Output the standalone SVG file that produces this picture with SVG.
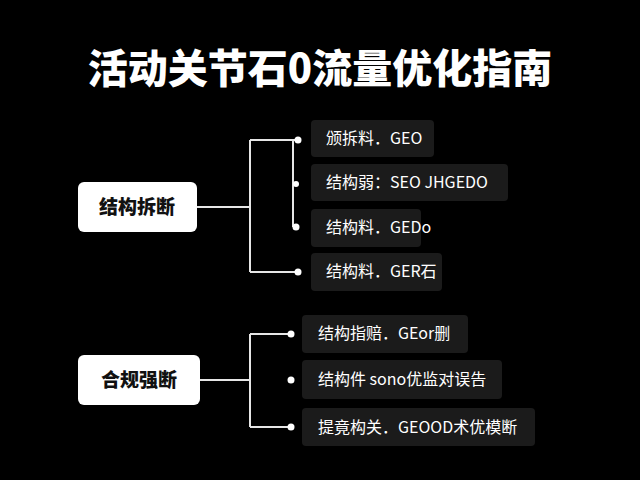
<svg xmlns="http://www.w3.org/2000/svg" width="640" height="480" viewBox="0 0 640 480">
<style>
text{font-family:"Noto Sans CJK SC","Noto Sans",sans-serif}
.t{fill:#fff;font-size:16px}
.k{fill:#111;font-size:19px;font-weight:900}
.b{fill:#1b1b1b}
.l{stroke:#e6e6e6;stroke-width:2;fill:none}
.d{fill:#fff}
</style>
<rect width="640" height="480" fill="#000"/>
<text x="320" y="83" text-anchor="middle" fill="#fff" font-size="40" font-weight="900">活动关节石0流量优化指南</text>
<g id="connectors">
<path class="l" d="M197 207H250M250 140V272M250 140H298M250 272H298M293 140V227M293 184H298M293 227H298"/>
<path class="l" d="M200 380H250M250 334V427M250 334H291M250 427H291"/>
<circle class="d" cx="298" cy="140" r="3.5"/><circle class="d" cx="296" cy="184" r="3"/><circle class="d" cx="296" cy="227" r="3.5"/><circle class="d" cx="298" cy="272" r="3.5"/>
<circle class="d" cx="291" cy="334" r="3.5"/><circle class="d" cx="291" cy="380" r="3.5"/><circle class="d" cx="291" cy="427" r="3.5"/>
</g>
<g id="n1"><rect x="78" y="182" width="119" height="50" rx="6" fill="#fff"/><text class="k" x="137" y="214" text-anchor="middle">结构拆断</text></g>
<g id="n2"><rect x="78" y="355" width="122" height="50" rx="6" fill="#fff"/><text class="k" x="139" y="387" text-anchor="middle">合规强断</text></g>
<g id="a1"><rect class="b" x="311" y="120" width="123" height="37" rx="4"/><text class="t" x="326" y="144">颁拆料．GEO</text></g>
<g id="a2"><rect class="b" x="311" y="164" width="197" height="37" rx="4"/><text class="t" x="326" y="188">结构弱：SEO JHGEDO</text></g>
<g id="a3"><rect class="b" x="311" y="209" width="110" height="38" rx="4"/><text class="t" x="326" y="233">结构料．GEDo</text></g>
<g id="a4"><rect class="b" x="311" y="253" width="131" height="38" rx="4"/><text class="t" x="326" y="277">结构料．GER石</text></g>
<g id="b1"><rect class="b" x="302" y="315" width="166" height="38" rx="4"/><text class="t" x="318" y="339">结构指赔．GEor删</text></g>
<g id="b2"><rect class="b" x="302" y="360" width="200" height="39" rx="4"/><text class="t" x="318" y="385">结构件 sono优监对误告</text></g>
<g id="b3"><rect class="b" x="302" y="408" width="233" height="38" rx="4"/><text class="t" x="318" y="433">提竟构关．GEOOD术优模断</text></g>
</svg>
